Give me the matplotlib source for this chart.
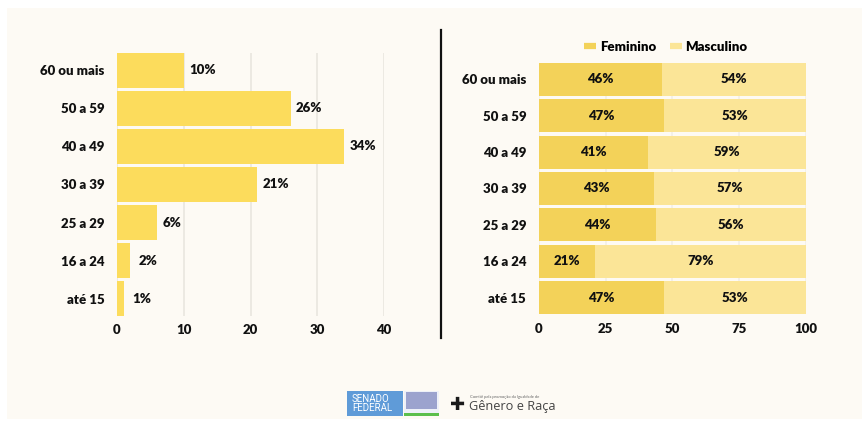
import matplotlib
matplotlib.use("Agg")
import matplotlib.pyplot as plt
from matplotlib.patches import Rectangle
from matplotlib.lines import Line2D

plt.rcParams['font.family'] = ['Lato', 'DejaVu Sans']

faixas = ["60 ou mais", "50 a 59", "40 a 49", "30 a 39", "25 a 29", "16 a 24", "até 15"]
total = [10, 26, 34, 21, 6, 2, 1]
feminino = [46, 47, 41, 43, 44, 21, 47]
masculino = [54, 53, 59, 57, 56, 79, 53]

W, H = 867, 421
BG = "#fdfaf4"
AMARELO = "#fcdc5c"
FEM = "#f3d259"
MASC = "#fbe597"
TXT = "#111111"

fig = plt.figure(figsize=(W / 100, H / 100), dpi=100, facecolor="white")


def box(x0, y0, x1, y1):
    # pixel box (top-left origin) -> figure fraction rect
    return [x0 / W, 1 - y1 / H, (x1 - x0) / W, (y1 - y0) / H]


fig.patches.append(Rectangle((7 / W, 1 - 419 / H), 855 / W, 411 / H,
                             transform=fig.transFigure, facecolor=BG,
                             edgecolor="none", zorder=-10))

# --- total by age group ---
ax1 = fig.add_axes(box(117, 53, 384, 316))
ax1.set_facecolor("none")
y = range(len(faixas))
ax1.barh(y, total, height=0.92, color=AMARELO, zorder=2)
ax1.set_ylim(len(faixas) - 0.54, -0.46)
ax1.set_xlim(0, 40)
ax1.set_xticks([0, 10, 20, 30, 40])
ax1.xaxis.grid(True, color="#e9e6df", linewidth=1.2, zorder=0)
for i, v in enumerate(total):
    ax1.annotate(f"{v}%", (v, i), xytext=(4 if v > 2 else 6, 0),
                 textcoords="offset points", va="center", ha="left",
                 fontsize=9.5, fontweight="heavy", color=TXT, clip_on=False)

# --- split by sex ---
ax2 = fig.add_axes(box(538.7, 62.7, 806, 314.3))
ax2.set_facecolor("none")
ax2.barh(y, feminino, height=0.91, color=FEM, zorder=2, label="Feminino")
ax2.barh(y, masculino, left=feminino, height=0.91, color=MASC, zorder=2,
         label="Masculino")
ax2.set_ylim(len(faixas) - 0.545, -0.455)
ax2.set_xlim(0, 100)
ax2.set_xticks([0, 25, 50, 75, 100])
ax2.xaxis.grid(True, color="#f1eee7", linewidth=1.2, zorder=0)
for i, (f, m) in enumerate(zip(feminino, masculino)):
    ax2.text(f / 2, i, f"{f}%", ha="center", va="center",
             fontsize=9.5, fontweight="heavy", color=TXT, zorder=3)
    ax2.text(f + m / 2, i, f"{m}%", ha="center", va="center",
             fontsize=9.5, fontweight="heavy", color=TXT, zorder=3)

handles = [Line2D([], [], color=FEM, linewidth=4.5, solid_capstyle="butt"),
           Line2D([], [], color=MASC, linewidth=4.5, solid_capstyle="butt")]
fig.legend(handles, ["Feminino", "Masculino"], loc="center",
           bbox_to_anchor=(666 / W, 1 - 47 / H), ncol=2, frameon=False,
           handlelength=0.9, handletextpad=0.3, columnspacing=1.0,
           prop={"size": 9.5, "weight": "heavy"})

for ax in (ax1, ax2):
    for s in ax.spines.values():
        s.set_visible(False)
    ax.set_axisbelow(True)
    ax.set_yticks(list(y))
    ax.set_yticklabels(faixas)
    ax.tick_params(length=0, labelsize=9.5, labelcolor=TXT)
    ax.tick_params(axis="y", pad=9)
    ax.tick_params(axis="x", pad=6)
    for lab in ax.get_xticklabels() + ax.get_yticklabels():
        lab.set_fontweight("heavy")

# divider between panels
fig.add_artist(Line2D([441 / W, 441 / W], [1 - 30 / H, 1 - 338 / H],
                      transform=fig.transFigure, color="#111111", linewidth=1.6))

# --- footer logos ---
fig.patches.append(Rectangle((347 / W, 1 - 416 / H), 56 / W, 25 / H,
                             transform=fig.transFigure, facecolor="#5f9bd8",
                             edgecolor="none"))
fig.text(352 / W, 1 - 403.5 / H, "SENADO\nFEDERAL", color="white", fontsize=7,
         family=["Roboto", "DejaVu Sans"], va="center", ha="left",
         linespacing=0.95)
fig.patches.append(Rectangle((404 / W, 1 - 416 / H), 35 / W, 25 / H,
                             transform=fig.transFigure, facecolor="#eef1f8",
                             edgecolor="none"))
fig.patches.append(Rectangle((406 / W, 1 - 409 / H), 31 / W, 17 / H,
                             transform=fig.transFigure, facecolor="#5a63ad",
                             edgecolor="none", alpha=0.55))
fig.patches.append(Rectangle((404 / W, 1 - 416 / H), 35 / W, 3 / H,
                             transform=fig.transFigure, facecolor="#5cbf4c",
                             edgecolor="none"))
fig.text(458 / W, 1 - 405 / H, "✚", color="#1a1a1a", fontsize=13,
         family=["DejaVu Sans"], va="center", ha="center")
fig.text(470 / W, 1 - 397 / H, "Comitê pela promoção da Igualdade de",
         color="#666666", fontsize=3.0, va="center", ha="left")
fig.text(469 / W, 1 - 406.5 / H, "Gênero e Raça", color="#444444",
         fontsize=9.2, family=["Open Sans", "DejaVu Sans"], va="center",
         ha="left")

fig.savefig("out.png", dpi=100, facecolor="white")
